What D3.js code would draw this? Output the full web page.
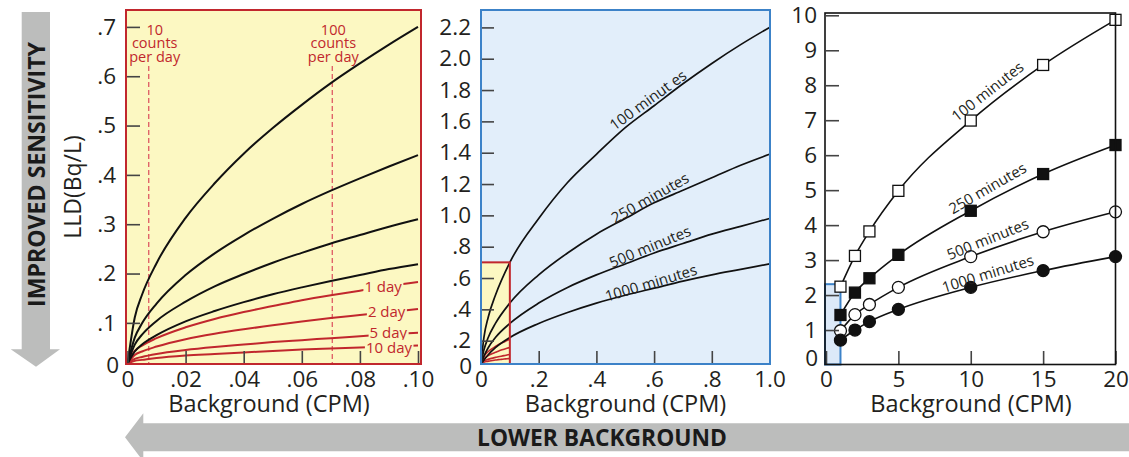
<!DOCTYPE html>
<html><head><meta charset="utf-8">
<script src="https://cdn.jsdelivr.net/npm/d3@7"></script>
<style>body{margin:0;background:#fff}svg{display:block;font-family:"Open Sans",sans-serif}</style>
</head><body>
<svg id="c" width="1129" height="457"></svg>
<script>
// ---------------- DATA ----------------
// Left panel (Background 0 - 0.10 CPM)
const leftX        = [0, 0.0025, 0.005, 0.01, 0.02, 0.03, 0.04, 0.05, 0.06, 0.07, 0.08, 0.09, 0.10];
const left100min   = [0.017, 0.111, 0.157, 0.221, 0.313, 0.383, 0.443, 0.495, 0.542, 0.586, 0.626, 0.664, 0.700];
const left250min   = [0.017, 0.070, 0.099, 0.139, 0.197, 0.241, 0.278, 0.311, 0.341, 0.368, 0.393, 0.417, 0.440];
const left500min   = [0.017, 0.056, 0.076, 0.104, 0.143, 0.174, 0.199, 0.222, 0.242, 0.261, 0.278, 0.295, 0.310];
const left1000min  = [0.017, 0.042, 0.056, 0.075, 0.103, 0.124, 0.142, 0.158, 0.172, 0.185, 0.197, 0.209, 0.219];
const left1day     = [0.017, 0.043, 0.054, 0.069, 0.091, 0.108, 0.122, 0.134, 0.146, 0.156, 0.165, 0.175, 0.183];
const left2day     = [0.017, 0.035, 0.042, 0.052, 0.067, 0.078, 0.087, 0.095, 0.103, 0.110, 0.116, 0.122, 0.128];
const left5day     = [0.017, 0.027, 0.031, 0.037, 0.045, 0.051, 0.056, 0.061, 0.065, 0.069, 0.073, 0.077, 0.080];
const left10day    = [0.017, 0.023, 0.025, 0.029, 0.034, 0.037, 0.040, 0.043, 0.046, 0.048, 0.050, 0.052, 0.054];
const dayLabels    = ["1 day", "2 day", "5 day", "10 day"];
const dayLabelPos  = [[0.0880, 0.173], [0.0892, 0.1226], [0.0898, 0.080], [0.0900, 0.050]];
const countLines   = [0.0073, 0.0705];
const countLabels  = [["10", "counts", "per day"], ["100", "counts", "per day"]];
const leftXTicks   = [0, 0.02, 0.04, 0.06, 0.08, 0.10];
const leftXLabels  = ["0", ".02", ".04", ".06", ".08", ".10"];
const leftYTicks   = [0.1, 0.2, 0.3, 0.4, 0.5, 0.6, 0.7];
const leftYLabels  = [".1", ".2", ".3", ".4", ".5", ".6", ".7"];

// Middle panel (Background 0 - 1.0 CPM)
const midX         = [0, 0.01, 0.025, 0.05, 0.1, 0.2, 0.3, 0.4, 0.5, 0.6, 0.7, 0.8, 0.9, 1.0];
const mid100min    = [0.051, 0.22, 0.35, 0.49, 0.70, 0.98, 1.21, 1.39, 1.56, 1.70, 1.84, 1.97, 2.09, 2.20];
const mid250min    = [0.051, 0.14, 0.22, 0.31, 0.44, 0.62, 0.76, 0.88, 0.98, 1.08, 1.16, 1.24, 1.32, 1.39];
const mid500min    = [0.051, 0.10, 0.155, 0.22, 0.31, 0.44, 0.54, 0.62, 0.69, 0.76, 0.82, 0.88, 0.93, 0.98];
const mid1000min   = [0.051, 0.075, 0.11, 0.155, 0.22, 0.31, 0.38, 0.44, 0.49, 0.535, 0.58, 0.62, 0.655, 0.69];
const midLabels    = ["100 minut es", "250 minutes", "500 minutes", "1000 minutes"];
const midLabelPos  = [[0.579, 1.736, -36], [0.586, 1.111, -29.5], [0.586, 0.80, -22.6], [0.589, 0.568, -16.8]];
const midXTicks    = [0, 0.2, 0.4, 0.6, 0.8, 1.0];
const midXLabels   = ["0", ".2", ".4", ".6", ".8", "1.0"];
const midYTicks    = [0.2, 0.4, 0.6, 0.8, 1.0, 1.2, 1.4, 1.6, 1.8, 2.0, 2.2];
const midYLabels   = [".2", ".4", ".6", ".8", "1.0", "1.2", "1.4", "1.6", "1.8", "2.0", "2.2"];

// Right panel (Background 0 - 20 CPM)
const rightX       = [1, 2, 3, 5, 10, 15, 20];
const right100min  = [2.24, 3.12, 3.82, 4.98, 6.99, 8.58, 9.87];
const right250min  = [1.43, 2.07, 2.48, 3.15, 4.41, 5.46, 6.29];
const right500min  = [0.98, 1.44, 1.73, 2.22, 3.10, 3.81, 4.38];
const right1000min = [0.71, 1.00, 1.24, 1.59, 2.22, 2.70, 3.10];
const rightLabels  = ["100 minutes", "250 minutes", "500 minutes", "1000 minutes"];
const rightLabelPos= [[11.16, 7.82, -38], [11.16, 5.05, -30], [11.18, 3.60, -21.9], [11.18, 2.61, -17.3]];
const rightXTicks  = [0, 5, 10, 15, 20];
const rightXLabels = ["0", "5", "10", "15", "20"];
const rightYTicks  = [1, 2, 3, 4, 5, 6, 7, 8, 9, 10];
const rightYLabels = ["1", "2", "3", "4", "5", "6", "7", "8", "9", "10"];

// ---------------- STYLE ----------------
const INK = "#231f20", RED = "#c1272d", YEL = "#fcf8c2", BLUEF = "#e2eefa", BLUE = "#3c82c8", GREY = "#bcbdbc";
const svg = d3.select("#c");

function axes(g, x, y, xt, xl, yt, yl, yPad) {
  const ax = g.append("g").attr("transform", `translate(0,${364})`)
    .call(d3.axisBottom(x).tickValues(xt).tickFormat((d, i) => xl[i]).tickSize(-13).tickPadding(7));
  const ay = g.append("g").attr("transform", `translate(${Math.floor(x.range()[0])},0)`)
    .call(d3.axisLeft(y).tickValues(yt).tickFormat((d, i) => yl[i]).tickSize(-13).tickPadding(yPad));
  [ax, ay].forEach(a => {
    a.select(".domain").remove();
    a.selectAll("line").attr("stroke", "#444").attr("stroke-width", 1.6);
    a.selectAll("text").attr("fill", INK).style("font-size", "22.5px").style("font-family", "'Open Sans'");
  });
  return [ax, ay];
}

// ================= LEFT PANEL =================
const xL = d3.scaleLinear().domain([0, 0.1]).range([127.5, 418]);
const yL = d3.scaleLinear().domain([0, 0.7]).range([372.2, 26.9]);
const gL = svg.append("g");
gL.append("rect").attr("x", 126).attr("y", 10).attr("width", 295).attr("height", 354).attr("fill", YEL);

// dashed count lines + labels
countLines.forEach((v, i) => {
  gL.append("line").attr("x1", xL(v)).attr("x2", xL(v)).attr("y1", 66).attr("y2", 364)
    .attr("stroke", "#e0646a").attr("stroke-width", 1.4).attr("stroke-dasharray", "5,3");
  countLabels[i].forEach((s, j) =>
    gL.append("text").attr("x", xL(v) + (i === 0 ? 6 : 1)).attr("y", 34.5 + j * 13.6)
      .attr("text-anchor", "middle").attr("fill", RED).style("font-size", "14.5px").text(s));
});

const lineL = d3.line().x((d, i) => xL(leftX[i])).y(d => yL(d)).curve(d3.curveMonotoneX);
[left1day, left2day, left5day, left10day].forEach(s =>
  gL.append("path").attr("d", lineL(s)).attr("fill", "none").attr("stroke", RED).attr("stroke-width", 2));
[left100min, left250min, left500min, left1000min].forEach(s =>
  gL.append("path").attr("d", lineL(s)).attr("fill", "none").attr("stroke", "#111").attr("stroke-width", 2));
dayLabels.forEach((s, i) => {
  const t = gL.append("text").attr("x", xL(dayLabelPos[i][0])).attr("y", yL(dayLabelPos[i][1])).attr("dy", "0.35em")
    .attr("text-anchor", "middle").attr("fill", RED).style("font-size", "15px").text(s);
  const b = t.node().getBBox();
  gL.insert("rect", () => t.node()).attr("x", b.x - 1).attr("y", b.y + 3).attr("width", b.width + 2)
    .attr("height", b.height - 6).attr("fill", YEL);
});
axes(gL, xL, yL, leftXTicks, leftXLabels, leftYTicks, leftYLabels, 11);
gL.append("rect").attr("x", 126).attr("y", 10).attr("width", 295).attr("height", 354)
  .attr("fill", "none").attr("stroke", RED).attr("stroke-width", 2);
gL.append("text").attr("x", 119).attr("y", 373).attr("text-anchor", "end").attr("fill", INK).style("font-size", "22.5px").text("0");
gL.append("text").attr("x", 269).attr("y", 412).attr("text-anchor", "middle").attr("fill", INK).style("font-size", "23.5px").text("Background (CPM)");
gL.append("text").attr("transform", "translate(81,187) rotate(-90)").attr("text-anchor", "middle").attr("fill", INK)
  .style("font-size", "23px").text("LLD(Bq/L)");

// ================= MIDDLE PANEL =================
const xM = d3.scaleLinear().domain([0, 1]).range([481, 769.5]);
const yM = d3.scaleLinear().domain([0, 2.2]).range([372, 27.4]);
const gM = svg.append("g");
gM.append("rect").attr("x", 481).attr("y", 10).attr("width", 289).attr("height", 354).attr("fill", BLUEF);
// inset (miniature of left panel)
const yIn = d3.scaleLinear().domain([yL.invert(364), 0.7]).range([364, yM(0.7)]);
gM.append("rect").attr("x", xM(0)).attr("y", yM(0.7)).attr("width", xM(0.1) - xM(0)).attr("height", 364 - yM(0.7)).attr("fill", YEL);
const lineIn = d3.line().x((d, i) => xM(leftX[i])).y(d => yIn(d)).curve(d3.curveMonotoneX);
[left1day, left2day, left5day, left10day].forEach(s =>
  gM.append("path").attr("d", lineIn(s)).attr("fill", "none").attr("stroke", RED).attr("stroke-width", 1.6));
const lineM = d3.line().x((d, i) => xM(midX[i])).y(d => yM(d)).curve(d3.curveMonotoneX);
[mid100min, mid250min, mid500min, mid1000min].forEach(s =>
  gM.append("path").attr("d", lineM(s)).attr("fill", "none").attr("stroke", "#111").attr("stroke-width", 1.7));
gM.append("rect").attr("x", xM(0)).attr("y", yM(0.7)).attr("width", xM(0.1) - xM(0)).attr("height", 364 - yM(0.7))
  .attr("fill", "none").attr("stroke", RED).attr("stroke-width", 2);
midLabels.forEach((s, i) => {
  const p = midLabelPos[i];
  gM.append("text").attr("transform", `translate(${xM(p[0])},${yM(p[1])}) rotate(${p[2]})`).attr("dy", "0.35em")
    .attr("text-anchor", "middle").attr("fill", INK).style("font-size", "15px").text(s);
});
axes(gM, xM, yM, midXTicks, midXLabels, midYTicks, midYLabels, 10);
gM.append("rect").attr("x", 481).attr("y", 10).attr("width", 289).attr("height", 354)
  .attr("fill", "none").attr("stroke", BLUE).attr("stroke-width", 2);
gM.append("text").attr("x", 472).attr("y", 374).attr("text-anchor", "end").attr("fill", INK).style("font-size", "22.5px").text("0");
gM.append("text").attr("x", 625.5).attr("y", 412).attr("text-anchor", "middle").attr("fill", INK).style("font-size", "23.5px").text("Background (CPM)");

// ================= RIGHT PANEL =================
const xR = d3.scaleLinear().domain([0, 20]).range([826, 1115.5]);
const yR = d3.scaleLinear().domain([0, 10]).range([365, 15.3]);
const gR = svg.append("g");
gR.append("rect").attr("x", xR(0) - 1).attr("y", yR(yM.invert(10))).attr("width", xR(1) - xR(0) + 1)
  .attr("height", 364.5 - yR(yM.invert(10))).attr("fill", "#dce9f8").attr("stroke", BLUE).attr("stroke-width", 2);
const lineR = d3.line().x((d, i) => xR(rightX[i])).y(d => yR(d)).curve(d3.curveMonotoneX);
const rSeries = [right100min, right250min, right500min, right1000min];
const rMarker = ["sqOpen", "sqFill", "ciOpen", "ciFill"];
rSeries.forEach(s => gR.append("path").attr("d", lineR(s)).attr("fill", "none").attr("stroke", "#111").attr("stroke-width", 1.6));
rSeries.forEach((s, k) => {
  const m = rMarker[k];
  s.forEach((v, i) => {
    const cx = xR(rightX[i]), cy = yR(v);
    if (m[0] === "s") {
      gR.append("rect").attr("x", cx - 5.5).attr("y", cy - 5.5).attr("width", 11).attr("height", 11)
        .attr("fill", m === "sqOpen" ? "#fff" : "#111").attr("stroke", "#111").attr("stroke-width", 1.3);
    } else {
      gR.append("circle").attr("cx", cx).attr("cy", cy).attr("r", 6)
        .attr("fill", m === "ciOpen" ? "#fff" : "#111").attr("stroke", "#111").attr("stroke-width", 1.3);
    }
  });
});
rightLabels.forEach((s, i) => {
  const p = rightLabelPos[i];
  gR.append("text").attr("transform", `translate(${xR(p[0])},${yR(p[1])}) rotate(${p[2]})`).attr("dy", "0.35em")
    .attr("text-anchor", "middle").attr("fill", INK).style("font-size", "15px").text(s);
});
axes(gR, xR, yR, rightXTicks, rightXLabels, rightYTicks, rightYLabels, 9);
gR.append("rect").attr("x", 825).attr("y", 13).attr("width", 290.5).attr("height", 351.5)
  .attr("fill", "none").attr("stroke", "#111").attr("stroke-width", 1.6);
gR.append("text").attr("x", 818).attr("y", 366).attr("text-anchor", "end").attr("fill", INK).style("font-size", "22.5px").text("0");
gR.append("text").attr("x", 971).attr("y", 412).attr("text-anchor", "middle").attr("fill", INK).style("font-size", "23.5px").text("Background (CPM)");

// ================= ARROWS =================
svg.append("path").attr("d", "M21.7,12 H50 V349.3 H60 L36,366.7 L10.7,349.3 H21.7 Z").attr("fill", GREY);
svg.append("text").attr("transform", "translate(45,174.5) rotate(-90)").attr("text-anchor", "middle")
  .attr("textLength", 265).attr("lengthAdjust", "spacingAndGlyphs")
  .attr("fill", "#1a1a1a").style("font-size", "24px").style("font-weight", "700").text("IMPROVED SENSITIVITY");
svg.append("path").attr("d", "M1129,423.3 H143.3 V413.3 L125,437.3 L143.3,461.3 V451.3 H1129 Z").attr("fill", GREY);
svg.append("text").attr("x", 602).attr("y", 446).attr("text-anchor", "middle")
  .attr("textLength", 250).attr("lengthAdjust", "spacingAndGlyphs")
  .attr("fill", "#1a1a1a").style("font-size", "23px").style("font-weight", "700").text("LOWER BACKGROUND");
</script>
</body></html>
